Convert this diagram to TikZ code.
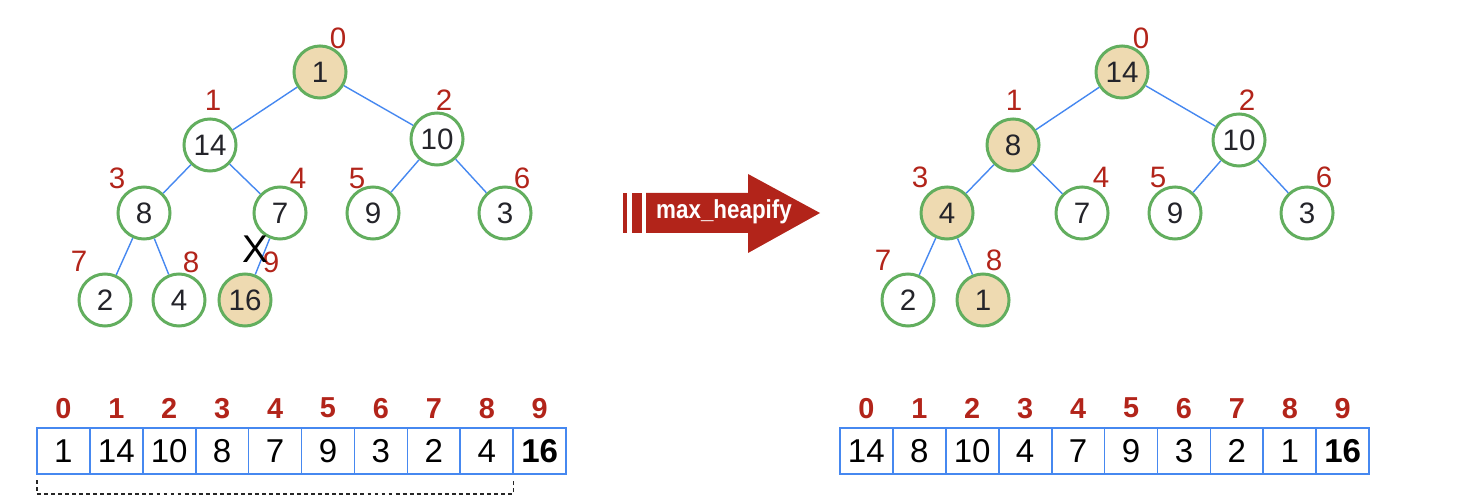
\documentclass[tikz,border=0pt]{standalone}
\usepackage{fontspec}
\setmainfont{Liberation Sans}
\newfontfamily\arrowfont[FakeStretch=0.86]{Liberation Sans}
\usetikzlibrary{matrix}
\definecolor{hred}{RGB}{178,36,26}
\definecolor{hgreen}{RGB}{98,174,94}
\definecolor{hblue}{RGB}{70,136,240}
\definecolor{htan}{RGB}{238,218,177}
\definecolor{hdark}{RGB}{36,36,42}
\tikzstyle{key} = [circle, minimum size=.52cm, inner sep=0pt, line width=.85pt, draw=hgreen, fill=white, text=hdark, font=\fontsize{8.4}{9}\selectfont]
\tikzstyle{moved} = [key, fill=htan]
\tikzstyle{slot} = [text=hred, inner sep=0pt, font=\fontsize{8.4}{9}\selectfont]
\tikzstyle{edge} = [draw=hblue, line width=.4pt]
\tikzstyle{cell} = [rectangle, draw=hblue, line width=.5pt, minimum width=.529cm, minimum height=.46cm, inner sep=0pt, outer sep=0pt, anchor=center, font=\fontsize{9.4}{10}\selectfont]
\tikzstyle{idx} = [draw=none, minimum height=.38cm, text=hred, font=\fontsize{8.2}{9}\selectfont\bfseries]
\tikzstyle{bracket} = [draw=black!85, line width=.4pt, dash pattern=on 1.1pt off .9pt]
\newcommand{\lst}{\textbf{16}}

\begin{document}
\begin{tikzpicture}[x=.01cm, y=-.01cm]
				\useasboundingbox (0,0) rectangle (1474,504);
				\node [moved] (a0) at (320,72) {1};
				\node [key] (a1) at (210,145) {14};
				\node [key] (a2) at (437,139) {10};
				\node [key] (a3) at (144,213) {8};
				\node [key] (a4) at (280,213) {7};
				\node [key] (a5) at (373,213) {9};
				\node [key] (a6) at (505,213) {3};
				\node [key] (a7) at (105,300) {2};
				\node [key] (a8) at (179,300) {4};
				\node [moved] (a9) at (245,300) {16};
				\draw [edge] (a0) -- (a1);
				\draw [edge] (a0) -- (a2);
				\draw [edge] (a1) -- (a3);
				\draw [edge] (a1) -- (a4);
				\draw [edge] (a2) -- (a5);
				\draw [edge] (a2) -- (a6);
				\draw [edge] (a3) -- (a7);
				\draw [edge] (a3) -- (a8);
				\draw [edge] (a4) -- (a9);
				\node [slot] (pa0) at (338,38) {0};
				\node [slot] (pa1) at (213,100) {1};
				\node [slot] (pa2) at (444,100) {2};
				\node [slot] (pa3) at (117,178) {3};
				\node [slot] (pa4) at (298,178) {4};
				\node [slot] (pa5) at (357,178) {5};
				\node [slot] (pa6) at (522,178) {6};
				\node [slot] (pa7) at (79,261) {7};
				\node [slot] (pa8) at (191,262) {8};
				\node [slot] (pa9) at (271,262) {9};
				\node [inner sep=0pt, font=\fontsize{11}{12}\selectfont] (cut) at (255,249) {X};

				\fill[hred] (646,193) -- (748,193) -- (748,174) -- (820,213) -- (748,253) -- (748,233) -- (646,233) -- cycle;
				\fill[hred] (623,193) rectangle (627,233);
				\fill[hred] (632,193) rectangle (642,233);
				\node [text=white, inner sep=0pt, font=\arrowfont\fontsize{7.4}{8}\selectfont\bfseries] (op) at (724,212) {max\_heapify};

				\node [moved] (b0) at (1122,72) {14};
				\node [moved] (b1) at (1013,145) {8};
				\node [key] (b2) at (1239,140) {10};
				\node [moved] (b3) at (947,213) {4};
				\node [key] (b4) at (1082,213) {7};
				\node [key] (b5) at (1175,213) {9};
				\node [key] (b6) at (1307,213) {3};
				\node [key] (b7) at (908,300) {2};
				\node [moved] (b8) at (983,300) {1};
				\draw [edge] (b0) -- (b1);
				\draw [edge] (b0) -- (b2);
				\draw [edge] (b1) -- (b3);
				\draw [edge] (b1) -- (b4);
				\draw [edge] (b2) -- (b5);
				\draw [edge] (b2) -- (b6);
				\draw [edge] (b3) -- (b7);
				\draw [edge] (b3) -- (b8);
				\node [slot] (pb0) at (1141,38) {0};
				\node [slot] (pb1) at (1014,100) {1};
				\node [slot] (pb2) at (1247,100) {2};
				\node [slot] (pb3) at (920,177) {3};
				\node [slot] (pb4) at (1101,177) {4};
				\node [slot] (pb5) at (1158,177) {5};
				\node [slot] (pb6) at (1324,177) {6};
				\node [slot] (pb7) at (883,260) {7};
				\node [slot] (pb8) at (994,260) {8};

				\matrix (arrL) at (36,475) [matrix of nodes, nodes={cell}, row 1/.style={nodes={idx}},
				anchor=south west, inner sep=0pt, outer sep=0pt,
				column sep=-.5pt, row sep=0pt] {
					0 & 1 & 2 & 3 & 4 & 5 & 6 & 7 & 8 & 9 \\
					1 & 14 & 10 & 8 & 7 & 9 & 3 & 2 & 4 & \lst \\
				};
				\matrix (arrR) at (839,475) [matrix of nodes, nodes={cell}, row 1/.style={nodes={idx}},
				anchor=south west, inner sep=0pt, outer sep=0pt,
				column sep=-.5pt, row sep=0pt] {
					0 & 1 & 2 & 3 & 4 & 5 & 6 & 7 & 8 & 9 \\
					14 & 8 & 10 & 4 & 7 & 9 & 3 & 2 & 1 & \lst \\
				};
				\draw [bracket] ([yshift=-.06cm]arrL-2-1.south west) -- ++(0,14) -| ([yshift=-.05cm]arrL-2-10.south west);
			\end{tikzpicture}
\end{document}
